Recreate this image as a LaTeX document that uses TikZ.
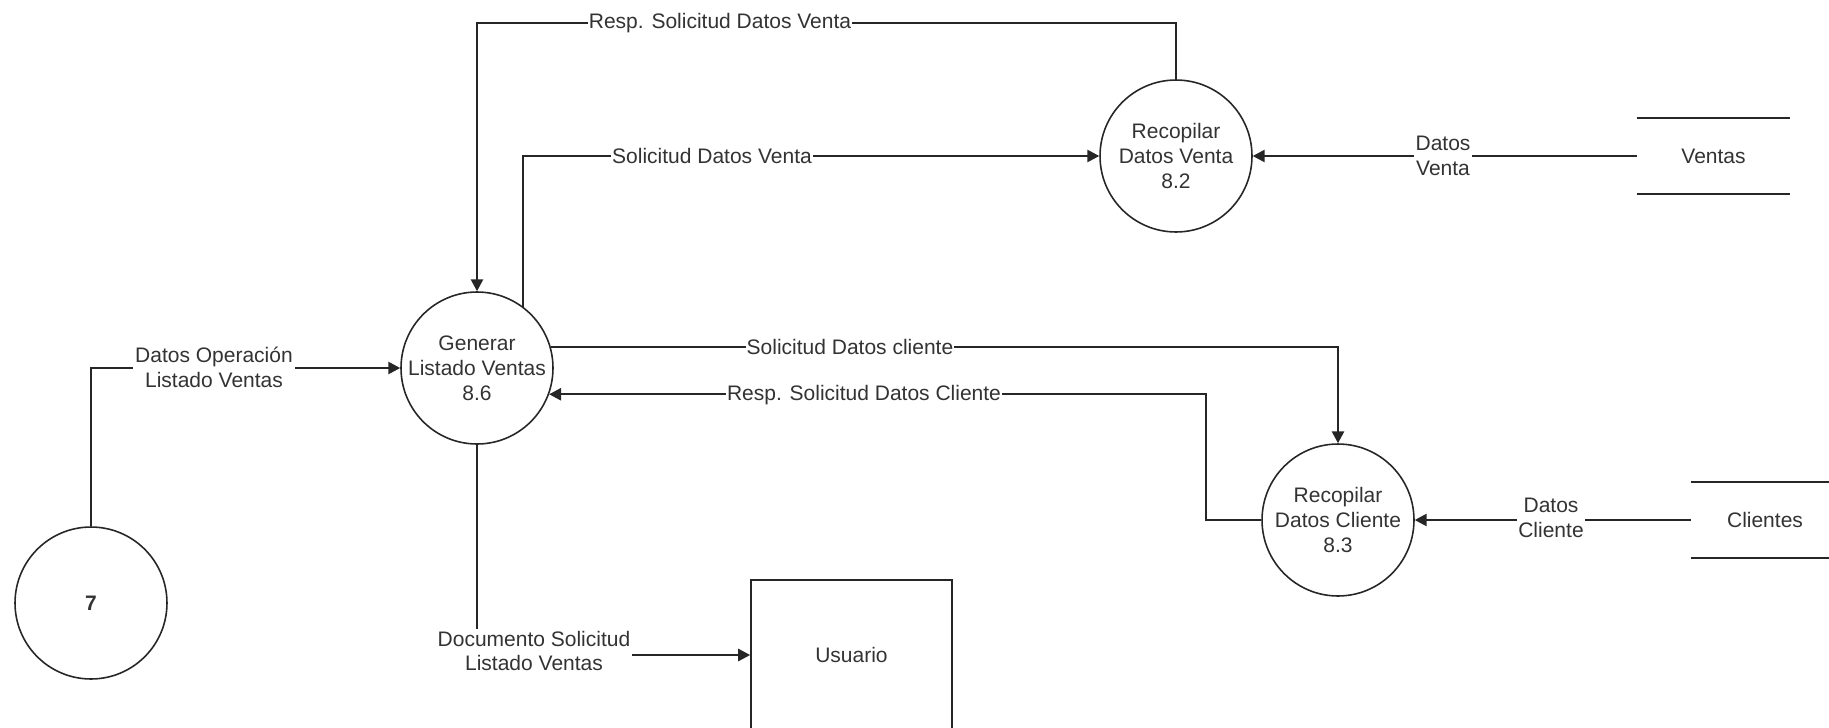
\documentclass[tikz,border=0pt]{standalone}
\usepackage{fontspec}
\setmainfont{Liberation Sans}
\usetikzlibrary{arrows.meta}
\begin{document}
\begin{tikzpicture}[x=0.02cm, y=-0.02cm,
  every node/.style={font=\fontsize{11.95pt}{14.2pt}\selectfont, text=black!80},
  proc/.style={circle, draw=black!85, line width=0.9pt, minimum size=3.04cm,
    inner sep=0pt, align=center},
  extent/.style={rectangle, draw=black!85, line width=1pt, minimum width=4.02cm,
    minimum height=3cm, inner sep=0pt},
  store/.style={rectangle, inner sep=0pt, minimum height=1.52cm},
  storeline/.style={draw=black!85, line width=1pt},
  flow/.style={draw=black!85, line width=1pt,
    -{Triangle[length=6.8pt, width=7pt]}},
  link/.style={draw=black!85, line width=1pt},
  lbl/.style={fill=white, inner sep=1pt, align=center}
]
\useasboundingbox (0,0) rectangle (1829,727);

% processes and external entities
\node[proc] (p7)  at (91,603)   {\textbf{7}};
\node[proc] (gen) at (477,368)  {Generar\\Listado Ventas\\8.6};
\node[proc] (rdv) at (1176,156) {Recopilar\\Datos Venta\\8.2};
\node[proc] (rdc) at (1338,520) {Recopilar\\Datos Cliente\\8.3};
\node[extent] (usr) at (851.5,655) {Usuario};

% data stores
\node[store, minimum width=3.06cm] (ventas) at (1713.5,156) {Ventas};
\node[store, minimum width=2.96cm] (clientes) at (1765,520) {Clientes};
\draw[storeline] (ventas.north west) -- (ventas.north east)
                 (ventas.south west) -- (ventas.south east);
\draw[storeline] (clientes.north west) -- (clientes.north east)
                 (clientes.south west) -- (clientes.south east);

% routing helpers
\coordinate (toprow) at (0,23);
\coordinate (bend) at (1206,0);

% data flows
\draw[flow] (p7.north) |- (gen.west);
\draw[flow] (rdv.north) -- (rdv.north |- toprow) -| (gen.north);
\draw[flow] (gen.53.6) |- (rdv.west);
\draw[flow] (ventas.west) -- (rdv.east);
\draw[flow] (gen.16) -| (rdc.north);
\draw[flow] (rdc.west) -- (rdc.west -| bend) |- (gen.-20.8);
\draw[flow] (clientes.west) -- (rdc.east);
\draw[flow] (gen.south) |- (usr.west);

% flow labels
\node[lbl] (lop) at (214,367)  {Datos Operación\\Listado Ventas};
\node[lbl, inner sep=0.5pt] (lrv) at (720,23) {Resp. Solicitud Datos Venta};
\node[lbl, inner sep=0.5pt] (lsv) at (712,156) {Solicitud Datos Venta};
\node[lbl] (ldv) at (1443,156) {Datos\\Venta};
\node[lbl, inner sep=0.5pt] (lsc) at (850,347) {Solicitud Datos cliente};
\node[lbl, inner sep=0.5pt] (lrc) at (864,395) {Resp. Solicitud Datos Cliente};
\node[lbl] (ldc) at (1551,518) {Datos\\Cliente};
\node[lbl] (ldoc) at (534,651) {Documento Solicitud\\Listado Ventas};
\end{tikzpicture}
\end{document}
